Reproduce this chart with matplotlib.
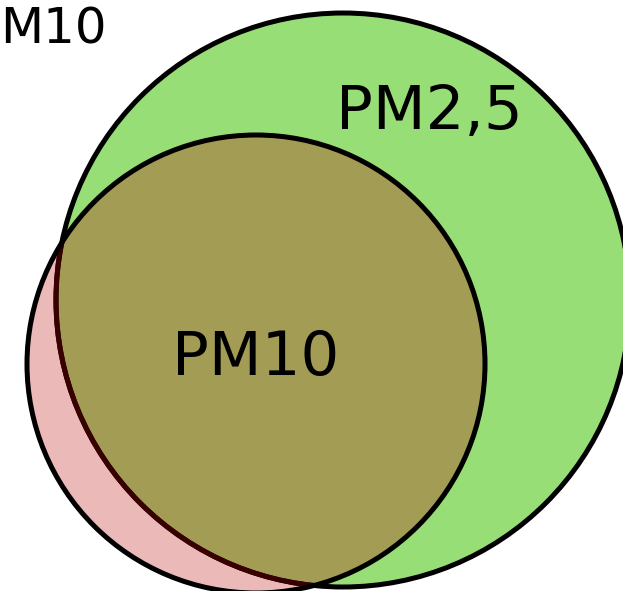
import matplotlib
matplotlib.use("Agg")
import matplotlib.pyplot as plt
from matplotlib.patches import Circle

# Set definitions (centre x, centre y, radius in image pixel units)
set_names = ["PM2,5", "PM10"]
set_centers = [(343, 300), (256, 364)]
set_radii = [287, 229]
label_positions = [(429, 113), (256, 358)]
outside_label = "M10"

green = "#98DE76"
pink = "#ECB9B9"
olive = "#A39C55"
darkred = "#3A0000"

W, H = 623, 591
fig = plt.figure(figsize=(W / 100, H / 100), dpi=100)
ax = fig.add_axes([0, 0, 1, 1])
ax.set_xlim(0, W)
ax.set_ylim(H, 0)
ax.axis("off")
ax.set_aspect("auto")

lw = 3.6
(cg, cp) = set_centers
(rg, rp) = set_radii

g_fill = Circle(cg, rg, facecolor=green, edgecolor="none", zorder=1)
ax.add_patch(g_fill)
p_fill = Circle(cp, rp, facecolor=pink, edgecolor="none", zorder=2)
ax.add_patch(p_fill)
inter = Circle(cp, rp, facecolor=olive, edgecolor="none", zorder=3)
ax.add_patch(inter)
clip_g = Circle(cg, rg, transform=ax.transData)
inter.set_clip_path(clip_g)

g_edge = Circle(cg, rg, facecolor="none", edgecolor="black", lw=lw, zorder=4)
ax.add_patch(g_edge)
g_edge_in = Circle(cg, rg, facecolor="none", edgecolor=darkred, lw=lw, zorder=5)
ax.add_patch(g_edge_in)
clip_p = Circle(cp, rp, transform=ax.transData)
g_edge_in.set_clip_path(clip_p)

p_edge = Circle(cp, rp, facecolor="none", edgecolor="black", lw=lw, zorder=6)
ax.add_patch(p_edge)

for name, (x, y) in zip(set_names, label_positions):
    ax.text(x, y, name, fontsize=44, ha="center", va="center",
            family="DejaVu Sans", zorder=10)

ax.text(0, 30, outside_label, fontsize=36, ha="left", va="center",
        family="DejaVu Sans", zorder=10)

fig.savefig("out.png", dpi=100)
